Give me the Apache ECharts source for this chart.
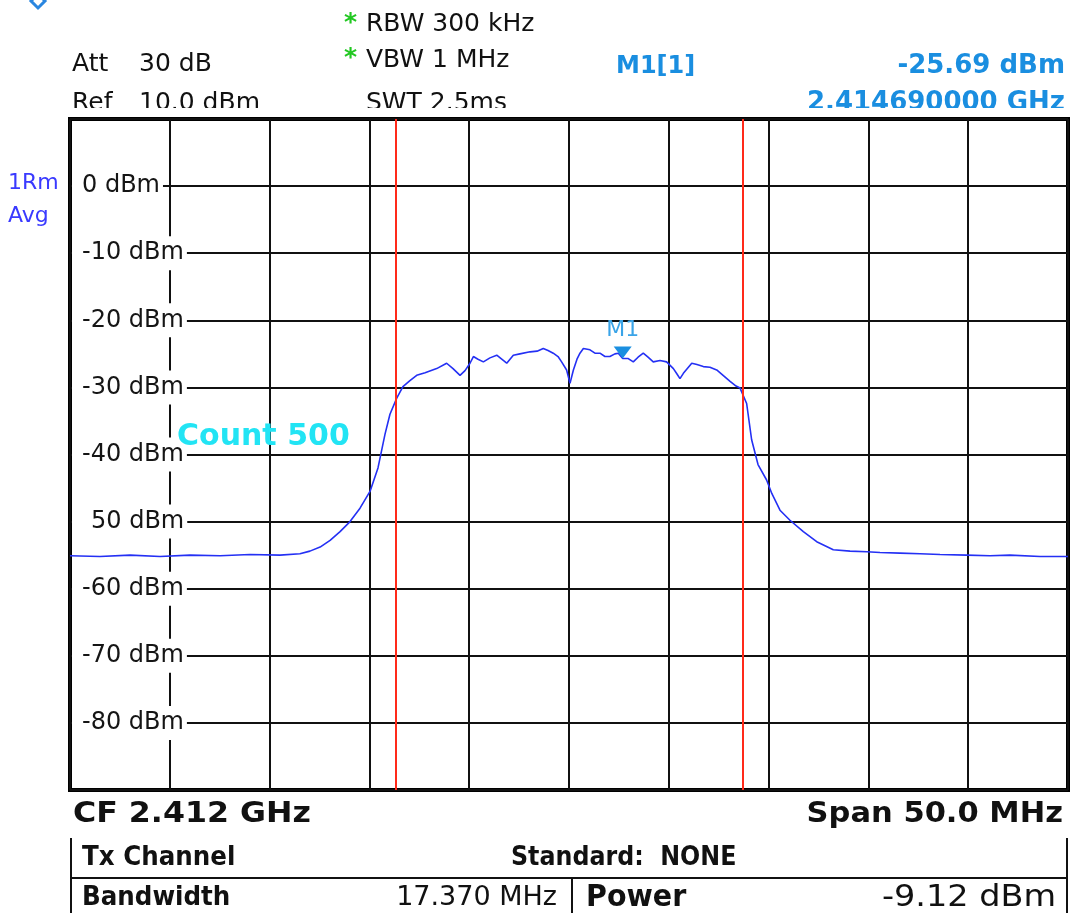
<!DOCTYPE html>
<html>
<head>
<meta charset="utf-8">
<title>Spectrum 2.412 GHz</title>
<script src="https://cdn.jsdelivr.net/npm/echarts@6/dist/echarts.min.js"></script>
<style>
html, body { margin: 0; padding: 0; background: #fff; }
#chart { width: 1071px; height: 913px; }
</style>
</head>
<body>
<div id="chart"></div>
<script>
// trace: frequency offset from CF 2.412 GHz (MHz) / level (dBm)
var traceMHz = [
    -25.00, -23.50, -21.99, -20.49, -18.99, -17.48, -15.98, -14.48, -13.48, -12.98,
    -12.47, -11.97, -11.47, -10.97, -10.47, -9.97, -9.57, -9.22, -8.97, -8.63,
    -8.32, -7.97, -7.63, -7.21, -6.63, -6.13, -5.81, -5.46, -5.21, -4.96,
    -4.79, -4.56, -4.29, -3.96, -3.62, -3.12, -2.79, -2.46, -1.95, -1.60,
    -1.29, -1.05, -0.79, -0.55, -0.37, -0.12, 0.05, 0.22, 0.40, 0.55,
    0.72, 1.05, 1.30, 1.55, 1.80, 2.05, 2.30, 2.47, 2.69, 2.97,
    3.22, 3.46, 3.72, 3.96, 4.22, 4.56, 4.89, 5.23, 5.41, 5.56,
    5.73, 6.15, 6.41, 6.73, 7.06, 7.40, 7.72, 8.07, 8.37, 8.57,
    8.90, 9.15, 9.47, 9.90, 10.16, 10.57, 11.07, 11.74, 12.41, 13.24,
    14.08, 14.92, 15.58, 16.58, 17.59, 18.59, 19.92, 21.09, 22.09, 23.60,
    25.00
];
var traceDbm = [
    -55.1, -55.2, -55.0, -55.2, -55.0, -55.1, -54.9, -55.0, -54.8, -54.4,
    -53.8, -52.8, -51.5, -50.0, -48.0, -45.5, -42.0, -37.0, -34.0, -31.6,
    -29.9, -29.0, -28.2, -27.8, -27.2, -26.4, -27.2, -28.2, -27.5, -26.4,
    -25.4, -25.8, -26.2, -25.6, -25.2, -26.4, -25.2, -25.0, -24.7, -24.6,
    -24.2, -24.5, -24.9, -25.4, -26.2, -27.4, -29.4, -27.4, -25.8, -24.9,
    -24.2, -24.4, -24.9, -24.9, -25.4, -25.4, -25.0, -24.9, -25.69, -25.7,
    -26.2, -25.5, -24.9, -25.5, -26.2, -26.0, -26.2, -27.2, -28.0, -28.7,
    -27.9, -26.4, -26.6, -26.9, -27.0, -27.4, -28.2, -29.1, -29.8, -30.1,
    -32.4, -37.8, -41.5, -43.8, -45.8, -48.3, -49.8, -51.5, -53.0, -54.2,
    -54.4, -54.5, -54.6, -54.7, -54.8, -54.9, -55.0, -55.1, -55.0, -55.2,
    -55.2
];

// y tick labels as printed on the screen
var yTickValues = [0, -10, -20, -30, -40, -50, -60, -70, -80];
var yTickLabels = ['0 dBm', '-10 dBm', '-20 dBm', '-30 dBm', '-40 dBm', '50 dBm', '-60 dBm', '-70 dBm', '-80 dBm'];

// channel limits (Bandwidth 17.370 MHz) and marker M1
var channelEdges = [-8.685, 8.685];
var markerM1 = [2.69, -25.69];

var FONT = '"DejaVu Sans", Verdana, sans-serif';

function txt(x, y, s, size, weight, color, align, sx) {
    return {
        type: 'text',
        x: x,
        y: y,
        scaleX: sx || 1,
        z: 100,
        silent: true,
        style: {
            text: s,
            fill: color,
            fontSize: size,
            fontWeight: weight,
            fontFamily: FONT,
            align: align || 'left',
            verticalAlign: 'middle'
        }
    };
}

function line(x1, y1, x2, y2, w) {
    return {
        type: 'line',
        z: 100,
        silent: true,
        shape: { x1: x1, y1: y1, x2: x2, y2: y2 },
        style: { stroke: '#111', lineWidth: w || 2 }
    };
}

var chart = echarts.init(document.getElementById('chart'));

var traceData = traceMHz.map(function(f, i) {
    return [f, traceDbm[i]];
});

var gridLine = { lineStyle: { color: '#111', width: 2, type: 'solid' } };

var option = {
    backgroundColor: '#fff',
    animation: false,
    grid: {
        left: 70,
        top: 119,
        width: 998,
        height: 671,
        show: true,
        borderColor: '#000',
        borderWidth: 4,
        backgroundColor: 'transparent'
    },
    xAxis: {
        type: 'value',
        min: -25,
        max: 25,
        interval: 5,
        axisLine: { show: false },
        axisTick: { show: false },
        axisLabel: { show: false },
        splitLine: gridLine
    },
    yAxis: [{
        type: 'value',
        min: -90,
        max: 10,
        interval: 10,
        axisLine: { show: false },
        axisTick: { show: false },
        axisLabel: { show: false },
        splitLine: gridLine
    }, {
        // labels only, drawn over the grid lines
        type: 'value',
        position: 'left',
        offset: 0,
        z: 5,
        min: -90,
        max: 10,
        interval: 10,
        axisLine: { show: false },
        axisTick: { show: false },
        splitLine: { show: false },
        axisLabel: {
            inside: true,
            margin: 2,
            showMinLabel: true,
            showMaxLabel: true,
            formatter: function(v) {
                var i = yTickValues.indexOf(v);
                if (i < 0) return '';
                var s = yTickLabels[i];
                return s.charAt(0) == '-' || s.charAt(0) == '0' ? '{a|' + s + '}' : '{b|' + s + '}';
            },
            rich: {
                a: {
                    fontSize: 24, fontFamily: FONT, color: '#151515',
                    backgroundColor: '#fff', padding: [5, 3, 5, 10]
                },
                b: {
                    fontSize: 24, fontFamily: FONT, color: '#151515',
                    backgroundColor: '#fff', padding: [5, 3, 5, 19]
                }
            }
        }
    }],
    series: [{
        type: 'line',
        data: traceData,
        showSymbol: false,
        z: 3,
        lineStyle: { color: '#2430f4', width: 1.6 },
        markLine: {
            silent: true,
            symbol: ['none', 'none'],
            label: { show: false },
            lineStyle: { color: '#ff2a1a', width: 2, type: 'solid' },
            data: channelEdges.map(function(f) { return { xAxis: f }; })
        },
        markPoint: {
            silent: true,
            symbol: 'triangle',
            symbolSize: [18, 12],
            symbolRotate: 180,
            symbolOffset: [0, -6],
            itemStyle: { color: '#1a8fe0' },
            label: {
                show: true,
                position: 'top',
                distance: 5,
                formatter: 'M1',
                color: '#3aa4e8',
                fontSize: 22,
                fontFamily: FONT
            },
            data: [{ coord: markerM1 }]
        }
    }],
    graphic: [
        {
            type: 'polygon', z: 100, silent: true,
            shape: { points: [[38, -6], [45, 1], [38, 8], [31, 1]] },
            style: { fill: 'none', stroke: '#2a86e0', lineWidth: 3 }
        },
        txt(344, 23, '*', 25, 'bold', '#22c822'),
        txt(366, 24, 'RBW 300 kHz', 25, 'normal', '#111'),
        txt(72, 64, 'Att', 25, 'normal', '#111'),
        txt(139, 64, '30 dB', 25, 'normal', '#111'),
        txt(344, 58, '*', 25, 'bold', '#22c822'),
        txt(366, 60, 'VBW 1 MHz', 25, 'normal', '#111'),
        txt(72, 103, 'Ref', 25, 'normal', '#111'),
        txt(139, 103, '10.0 dBm', 25, 'normal', '#111'),
        txt(366, 103, 'SWT 2.5ms', 25, 'normal', '#111'),
        txt(616, 67, 'M1[1]', 24, 'bold', '#1a8ee0'),
        txt(1065, 66, '-25.69 dBm', 26, 'bold', '#1a8ee0', 'right'),
        txt(1065, 103, '2.414690000 GHz', 26, 'bold', '#1a8ee0', 'right'),
        // lower part of the third header row is hidden
        {
            type: 'rect', z: 101, silent: true,
            shape: { x: 0, y: 108, width: 1071, height: 9 },
            style: { fill: '#fff' }
        },
        txt(8, 183, '1Rm', 22, 'normal', '#3a3aff'),
        txt(8, 216, 'Avg', 22, 'normal', '#3a3aff'),
        txt(177, 437, 'Count 500', 30, 'bold', '#22e4f4'),
        txt(73, 815, 'CF 2.412 GHz', 28, 'bold', '#111', 'left', 1.13),
        txt(1063, 815, 'Span 50.0 MHz', 28, 'bold', '#111', 'right', 1.09),
        line(71, 838, 71, 913),
        line(1067, 838, 1067, 913),
        line(70, 878, 1068, 878),
        line(572, 878, 572, 913),
        txt(82, 858, 'Tx Channel', 27, 'bold', '#111', 'left', 0.91),
        txt(511, 858, 'Standard:  NONE', 27, 'bold', '#111', 'left', 0.88),
        txt(82, 898, 'Bandwidth', 27, 'bold', '#111', 'left', 0.91),
        txt(557, 898, '17.370 MHz', 27, 'normal', '#111', 'right', 1),
        txt(586, 898, 'Power', 31, 'bold', '#111', 'left', 0.92),
        txt(1056, 898, '-9.12 dBm', 31, 'normal', '#111', 'right', 1.08)
    ]
};

chart.setOption(option);
</script>
</body>
</html>
